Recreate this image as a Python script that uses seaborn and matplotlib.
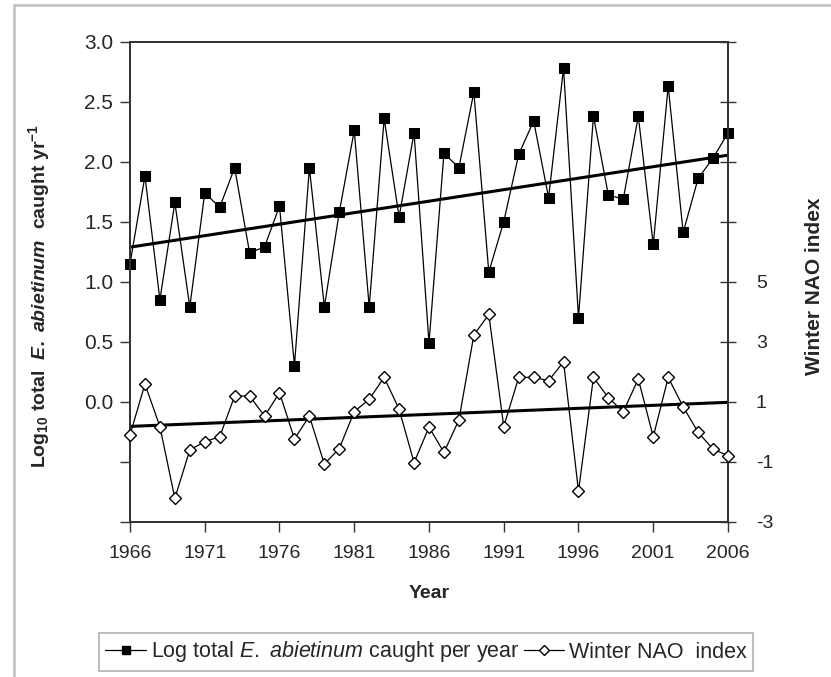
import numpy as np
import pandas as pd
import matplotlib
matplotlib.use("Agg")
import matplotlib.pyplot as plt
import matplotlib.patches as mpatches
from matplotlib.lines import Line2D
import seaborn as sns

years = list(range(1966, 2007))
log_total = [1.15, 1.88, 0.85, 1.66, 0.79, 1.74, 1.62, 1.95, 1.24, 1.29,
             1.63, 0.30, 1.95, 0.79, 1.58, 2.26, 0.79, 2.36, 1.54, 2.24,
             0.49, 2.07, 1.95, 2.58, 1.08, 1.50, 2.06, 2.34, 1.70, 2.78,
             0.70, 2.38, 1.72, 1.69, 2.38, 1.31, 2.63, 1.41, 1.86, 2.03, 2.24]
nao = [-0.11, 1.59, 0.17, -2.22, -0.61, -0.33, -0.17, 1.19, 1.19, 0.52,
       1.30, -0.24, 0.52, -1.08, -0.56, 0.67, 1.08, 1.81, 0.75, -1.03,
       0.15, -0.69, 0.39, 3.22, 3.91, 0.17, 1.81, 1.81, 1.70, 2.33,
       -1.98, 1.81, 1.13, 0.67, 1.76, -0.17, 1.81, 0.83, -0.02, -0.58, -0.80]
xticks = list(range(1966, 2007, 5))
left_ticks = [-1.0, -0.5, 0.0, 0.5, 1.0, 1.5, 2.0, 2.5, 3.0]
right_ticks = [-3, -1, 1, 3, 5, 7, 9, 11, 13]

df = pd.DataFrame({"Year": years, "log": log_total, "nao": nao})

sns.set_theme(style="white")
plt.rcParams["font.family"] = ["Liberation Sans", "DejaVu Sans"]
plt.rcParams["mathtext.fontset"] = "custom"
plt.rcParams["mathtext.rm"] = "Liberation Sans"
plt.rcParams["mathtext.it"] = "Liberation Sans:italic"
plt.rcParams["mathtext.bf"] = "Liberation Sans:bold"
plt.rcParams["mathtext.bfit"] = "Liberation Sans:italic:bold"

fig = plt.figure(figsize=(8.31, 6.77), dpi=100)
ax = fig.add_axes([130/831, 1-521.7/677, (728-130)/831, (521.7-41.7)/677])
ax2 = ax.twinx()

# Log series
sns.lineplot(data=df, x="Year", y="log", ax=ax, color="black", lw=0.9,
             marker="s", markersize=7, markerfacecolor="black",
             markeredgecolor="black", zorder=3, clip_on=False)
sns.regplot(data=df, x="Year", y="log", ax=ax, scatter=False, ci=None,
            truncate=True, line_kws={"color": "black", "lw": 2.2, "zorder": 2})

# NAO series
sns.lineplot(data=df, x="Year", y="nao", ax=ax2, color="black", lw=0.9,
             marker="D", markersize=6.5, markerfacecolor="white",
             markeredgecolor="black", markeredgewidth=1.0, zorder=3, clip_on=False)
sns.regplot(data=df, x="Year", y="nao", ax=ax2, scatter=False, ci=None,
            truncate=True, line_kws={"color": "black", "lw": 2.2, "zorder": 2})

ax.set_xlim(1966, 2006)
ax.set_ylim(-1, 3)
ax2.set_ylim(-3, 13)

ax.set_xticks(xticks)
ax.set_xticklabels([str(y) for y in xticks], fontsize=14)
ax.set_yticks(left_ticks)
ax.set_yticklabels([f"{v:.1f}" if v >= 0 else "" for v in left_ticks], fontsize=15)
ax2.set_yticks(right_ticks)
ax2.set_yticklabels([str(v) if v <= 5 else "" for v in right_ticks], fontsize=14)

ax.tick_params(axis="both", direction="out", length=7, width=1.0, color="#333333",
               left=True, bottom=True, pad=5)
ax.tick_params(axis="x", pad=10)
ax2.tick_params(axis="y", direction="inout", length=12, width=1.0, color="#333333",
                right=True, pad=14)

for a in (ax, ax2):
    for s in a.spines.values():
        s.set_color("#333333")
        s.set_linewidth(1.3)

ax.set_xlabel("Year", fontsize=14, fontweight="bold", labelpad=16)
ax.set_ylabel(r"$\mathbf{Log_{10}\ total\ \ }\mathbfit{E.\ abietinum}\mathbf{\ \ caught\ yr^{-1}}$",
              fontsize=14)
ax.yaxis.set_label_coords(-0.130, 0.47)
ax2.set_ylabel("Winter NAO index", fontsize=15, fontweight="bold")
ax2.yaxis.set_label_coords(1.128, 0.49)

handles = [
    Line2D([], [], color="black", lw=0.9, marker="s", markersize=6,
           markerfacecolor="black", markeredgecolor="black"),
    Line2D([], [], color="black", lw=0.9, marker="D", markersize=5,
           markerfacecolor="white", markeredgecolor="black"),
]
labels = [r"Log total $\mathit{E.\ abietinum}$ caught per year", "Winter NAO  index"]
leg = fig.legend(handles, labels, loc="center", bbox_to_anchor=(426/831, 1-652/677),
                 ncol=2, fontsize=15.5, frameon=True, fancybox=False, handlelength=1.9,
                 handletextpad=0.2, columnspacing=0.2, borderpad=0.3)
leg.get_frame().set_edgecolor("#a0a0a0")
leg.get_frame().set_linewidth(1.2)

# outer chart frame
fig.patches.append(mpatches.Rectangle((14/831, -0.1), 1.2, 1-5/677+0.1,
                                      transform=fig.transFigure, fill=False,
                                      edgecolor="#c0c0c0", lw=1.8, zorder=0))

fig.savefig("out.png", dpi=100)
